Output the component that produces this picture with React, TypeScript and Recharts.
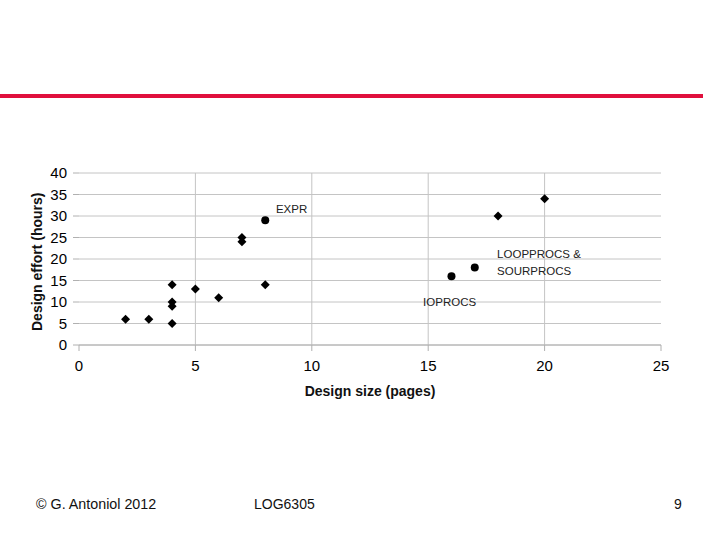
import React from 'react';
import { ScatterChart, Scatter, XAxis, YAxis, CartesianGrid, ReferenceLine } from 'recharts';

const diamondPoints = [
  { x: 2, y: 6 }, { x: 3, y: 6 }, { x: 4, y: 5 }, { x: 4, y: 9 }, { x: 4, y: 10 },
  { x: 4, y: 14 }, { x: 5, y: 13 }, { x: 6, y: 11 }, { x: 7, y: 24 }, { x: 7, y: 25 },
  { x: 8, y: 14 }, { x: 18, y: 30 }, { x: 20, y: 34 },
];
const circlePoints = [{ x: 8, y: 29 }, { x: 16, y: 16 }, { x: 17, y: 18 }];
const annotations = [
  { x: 8.46, y: 31.6, text: 'EXPR' },
  { x: 17.96, y: 21.2, text: 'LOOPPROCS &' },
  { x: 17.96, y: 17.2, text: 'SOURPROCS' },
  { x: 14.78, y: 10.0, text: 'IOPROCS' },
];
const xTicks = [0, 5, 10, 15, 20, 25];
const xGrid = [5, 10, 15, 20];
const yTicks = [0, 5, 10, 15, 20, 25, 30, 35, 40];

const FONT = '"Liberation Sans", Arial, sans-serif';

const Diamond = (p: any) => {
  const { cx, cy } = p;
  const s = 4.5;
  return <polygon points={`${cx},${cy - s} ${cx + s},${cy} ${cx},${cy + s} ${cx - s},${cy}`} fill="#000" />;
};
const Dot = (p: any) => <circle cx={p.cx} cy={p.cy} r={4} fill="#000" />;
const Note = (p: any) => (
  <text x={p.cx} y={p.cy} dy={4} fontSize={11.5} fontFamily={FONT} fill="#222">{p.payload.text}</text>
);

export default function App() {
  return (
    <div style={{ position: 'absolute', left: 0, top: 0, width: 720, height: 540, background: '#fff', fontFamily: FONT }}>
      <div style={{ position: 'absolute', left: 0, top: 94, width: 703, height: 4, background: '#e0103d' }} />
      <div style={{ position: 'absolute', left: 0, top: 0 }}>
        <ScatterChart width={720} height={540} margin={{ top: 173, right: 59, bottom: 145, left: 19 }}>
          <CartesianGrid vertical={false} stroke="#c4c4c4" />
          {xGrid.map((v) => (
            <ReferenceLine key={v} x={v} stroke="#c4c4c4" />
          ))}
          <XAxis
            type="number"
            dataKey="x"
            domain={[0, 25]}
            ticks={xTicks}
            interval={0}
            height={50}
            stroke="#b0b0b0"
            tickSize={6}
            tick={{ fill: '#000', fontSize: 15, fontFamily: FONT, dy: 7 }}
            label={{ value: 'Design size (pages)', position: 'insideBottom', offset: -1, fill: '#111', fontSize: 14, fontWeight: 'bold', fontFamily: FONT }}
          />
          <YAxis
            type="number"
            dataKey="y"
            domain={[0, 40]}
            ticks={yTicks}
            interval={0}
            width={60}
            axisLine={false}
            stroke="#b0b0b0"
            tickSize={6}
            tick={{ fill: '#000', fontSize: 15, fontFamily: FONT, dx: -4 }}
            label={{ value: 'Design effort (hours)', angle: -90, position: 'insideLeft', offset: 18, dy: 72, fill: '#111', fontSize: 14, fontWeight: 'bold', fontFamily: FONT }}
          />
          <Scatter data={diamondPoints} shape={Diamond} isAnimationActive={false} />
          <Scatter data={circlePoints} shape={Dot} isAnimationActive={false} />
          <Scatter data={annotations} shape={Note} isAnimationActive={false} />
        </ScatterChart>
      </div>
      <div style={{ position: 'absolute', left: 36, top: 496, fontSize: 14.3, color: '#111' }}>© G. Antoniol 2012</div>
      <div style={{ position: 'absolute', left: 254, top: 496, fontSize: 14, color: '#111' }}>LOG6305</div>
      <div style={{ position: 'absolute', left: 674, top: 496, fontSize: 14, color: '#111' }}>9</div>
    </div>
  );
}
